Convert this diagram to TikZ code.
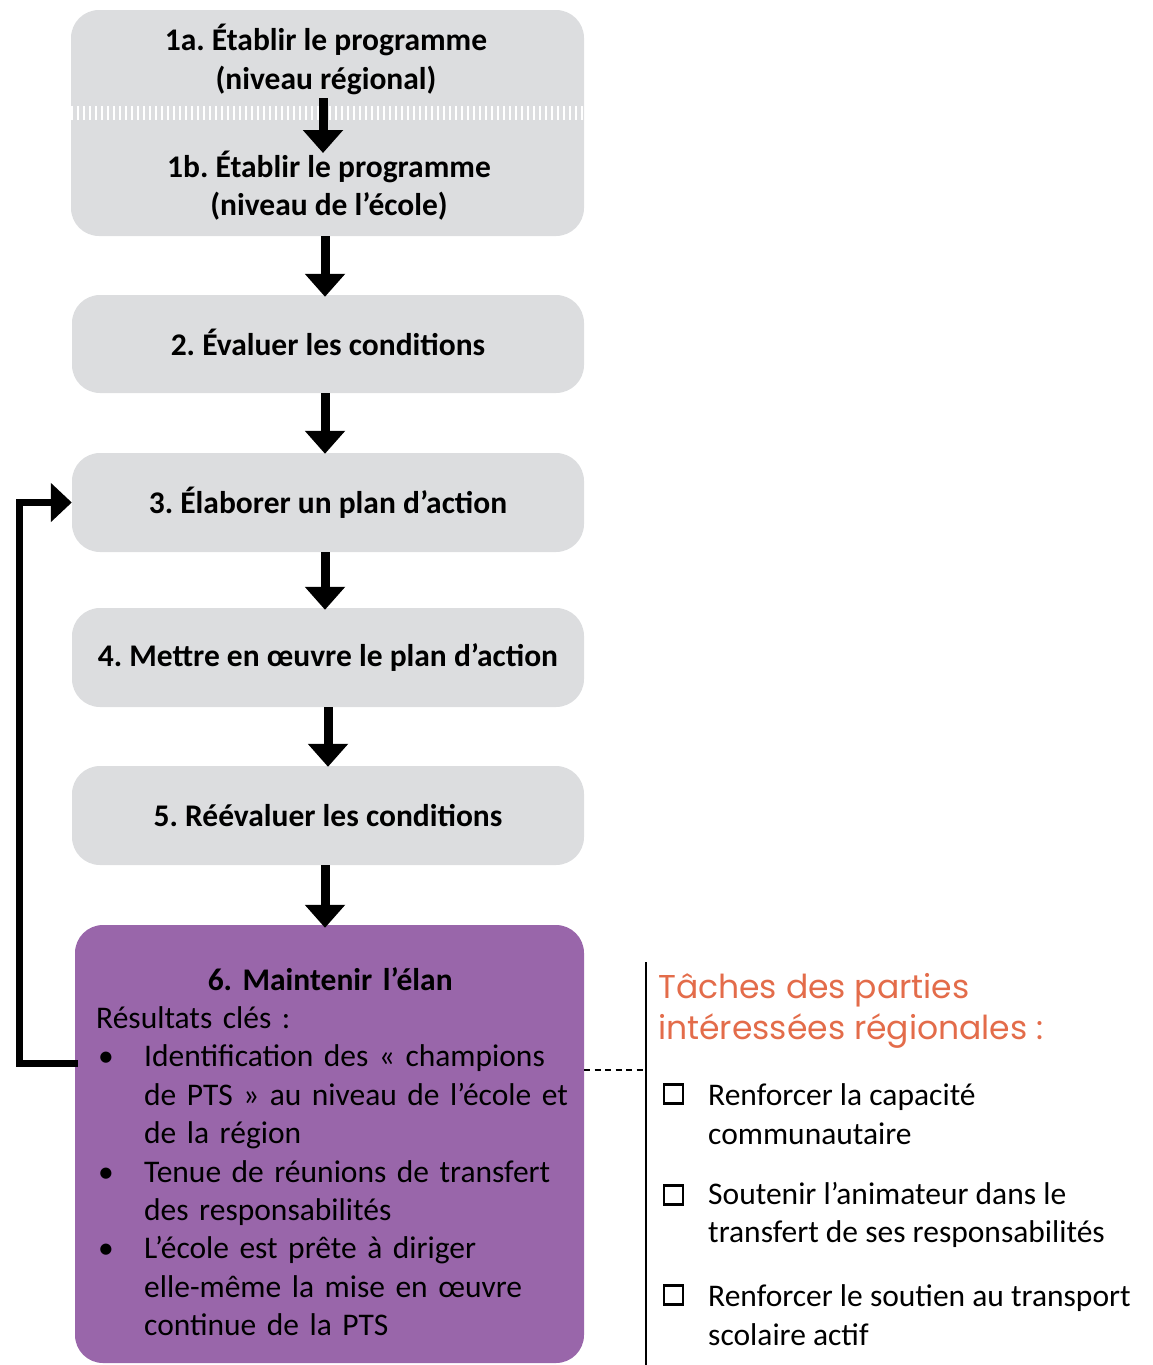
\documentclass[tikz,border=0pt]{standalone}
\usepackage{fontspec}
\setmainfont{Carlito}
\newfontfamily\titlefont{Poppins}
\usetikzlibrary{arrows.meta}
\frenchspacing
\definecolor{boxgray}{RGB}{220,221,223}
\definecolor{boxpurple}{RGB}{153,102,170}
\definecolor{titleorange}{RGB}{227,108,74}
\newcommand{\mainsize}{\fontsize{31.5}{38.4}\selectfont\frenchspacing}
\newcommand{\bul}{\makebox[48pt][l]{\hspace{2pt}•}}
\newcommand{\ind}{\hspace*{48pt}}
\tikzset{
  graybox/.style={fill=boxgray, rounded corners=28pt, inner sep=0pt, font=\mainsize\bfseries, align=center},
  purplebox/.style={fill=boxpurple, rounded corners=28pt, inner sep=0pt},
  downarrow/.style={line width=9pt, -{Triangle[width=39pt,length=23pt]}},
  fbarrow/.style={line width=7pt, line join=miter, -{Triangle[width=38pt,length=21pt]}},
  txt/.style={inner sep=0pt, font=\mainsize, align=left},
  chk/.style={draw, line width=2.4pt, minimum size=19pt, inner sep=0pt},
}
\begin{document}
\begin{tikzpicture}[x=1pt,y=-1pt]
\useasboundingbox (0,0) rectangle (1153,1365);

% gray boxes
\node[graybox, minimum width=513pt, minimum height=226pt] (b1) at (327.5,123) {};
\draw[white, line width=14pt, dash pattern=on 2pt off 4pt] (71,113) -- (584,113);
\node[txt, font=\mainsize\bfseries, align=center] (t1a) at (326,59.5) {1a. Établir le programme\\(niveau régional)};
\node[txt, font=\mainsize\bfseries, align=center] (t1b) at (329,185.5) {1b. Établir le programme\\(niveau de l’école)};
\coordinate (a0s) at (323,98);
\coordinate (a0e) at (323,153);
\draw[downarrow] (a0s) -- (a0e);

\node[graybox, minimum width=512pt, minimum height=98pt] (b2) at (328,344) {\raisebox{3pt}{2. Évaluer les conditions}};
\node[graybox, minimum width=512pt, minimum height=99pt] (b3) at (328,502.5) {3. Élaborer un plan d’action};
\node[graybox, minimum width=512pt, minimum height=99pt] (b4) at (328,657.5) {\raisebox{3pt}{4. Mettre en œuvre le plan d’action}};
\node[graybox, minimum width=512pt, minimum height=99pt] (b5) at (328,815.5) {5. Réévaluer les conditions};

% purple box
\node[purplebox, minimum width=509pt, minimum height=438pt] (b6) at (329.5,1144) {};
\node[txt, anchor=north west, text width=600pt] (t6) at (96,967) {%
\makebox[468pt]{\bfseries 6. Maintenir l’élan}\\
Résultats clés :\\
\bul Identification des « champions\\
\ind de PTS » au niveau de l’école et\\
\ind de la région\\
\bul Tenue de réunions de transfert\\
\ind des responsabilités\\
\bul L’école est prête à diriger\\
\ind elle-même la mise en œuvre\\
\ind continue de la PTS};

% down arrows
\draw[downarrow] ([xshift=-2.5pt]b1.south) -- ([xshift=-3pt,yshift=-2pt]b2.north);
\draw[downarrow] ([xshift=-3pt]b2.south) -- ([xshift=-3pt,yshift=-1pt]b3.north);
\draw[downarrow] ([xshift=-3pt]b3.south) -- ([xshift=-3pt,yshift=-2pt]b4.north);
\draw[downarrow] ([xshift=0pt]b4.south) -- ([xshift=0pt,yshift=-1pt]b5.north);
\draw[downarrow] ([xshift=-3pt]b5.south) -- ([xshift=-4.5pt,yshift=-3pt]b6.north);

% feedback loop
\coordinate (fbs) at (78,1063);
\coordinate (fbc) at (19,1063);
\draw[fbarrow] (fbs) -- (fbc) |- (b3.west);

% right side
\coordinate (vtop) at (646,962);
\coordinate (vbot) at (646,1366);
\draw[line width=2.5pt] (vtop) -- (vbot);
\coordinate (dj) at (646,1070);
\draw[line width=2pt, dash pattern=on 6pt off 4.5pt] (b6.east |- dj) -- (dj);

\node[inner sep=0pt, anchor=west, align=left, text=titleorange, font=\titlefont\fontsize{33}{41}\selectfont] (title) at (658,1011) {Tâches des parties\\intéressées régionales :};

\node[chk] (c1) at (673.5,1094) {};
\node[chk] (c2) at (673.5,1195) {};
\node[chk] (c3) at (673.5,1295) {};
\node[txt, anchor=west] (r1) at (708,1114) {Renforcer la capacité\\communautaire};
\node[txt, anchor=west] (r2) at (708,1215) {Soutenir l’animateur dans le\\transfert de ses responsabilités};
\node[txt, anchor=west] (r3) at (708,1315) {Renforcer le soutien au transport\\scolaire actif};
\end{tikzpicture}
\end{document}
